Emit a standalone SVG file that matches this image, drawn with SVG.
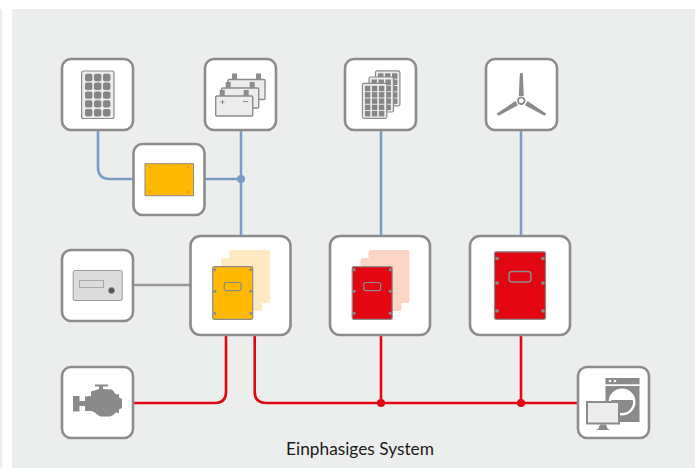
<svg xmlns="http://www.w3.org/2000/svg" width="695" height="468" viewBox="0 0 695 468">
<style>
.bg{fill:#eceeed}
.node{fill:#fff;stroke:#8c8c8c;stroke-width:2.6}
.blue{fill:none;stroke:#7b9cc6;stroke-width:2.6}
.red{fill:none;stroke:#e30613;stroke-width:2.6}
.gray{fill:none;stroke:#999;stroke-width:2.6}
.ic{fill:#8a8a8a}
.panel{fill:#ececec;stroke:#8c8c8c;stroke-width:1.2}
.cell{fill:#858585}
.bat{fill:#ececec;stroke:#8c8c8c;stroke-width:1.4}
.ghost-y{fill:#ffe9c2;filter:url(#soft)}
.ghost-r{fill:#fdd5c6;filter:url(#soft)}
.dev{stroke:#8c8c8c;stroke-width:1.2}
.win{fill:none;stroke:#8c8c8c;stroke-width:1.2}
.scr{fill:#8c8c8c}
text{font-family:"Lato","Liberation Sans",sans-serif;font-size:17.3px;fill:#1a1a1a}
</style>
<defs>
<filter id="soft" x="-10%" y="-10%" width="120%" height="120%"><feGaussianBlur stdDeviation="0.6"/></filter>
<g id="cells">
<rect x="0" y="0" width="7.400" height="7.400" rx="1.800"/><rect x="9" y="0" width="7.400" height="7.400" rx="1.800"/><rect x="18" y="0" width="7.400" height="7.400" rx="1.800"/>
<rect x="0" y="8.800" width="7.400" height="7.400" rx="1.800"/><rect x="9" y="8.800" width="7.400" height="7.400" rx="1.800"/><rect x="18" y="8.800" width="7.400" height="7.400" rx="1.800"/>
<rect x="0" y="17.600" width="7.400" height="7.400" rx="1.800"/><rect x="9" y="17.600" width="7.400" height="7.400" rx="1.800"/><rect x="18" y="17.600" width="7.400" height="7.400" rx="1.800"/>
<rect x="0" y="26.400" width="7.400" height="7.400" rx="1.800"/><rect x="9" y="26.400" width="7.400" height="7.400" rx="1.800"/><rect x="18" y="26.400" width="7.400" height="7.400" rx="1.800"/>
<rect x="0" y="35.200" width="7.400" height="7.400" rx="1.800"/><rect x="9" y="35.200" width="7.400" height="7.400" rx="1.800"/><rect x="18" y="35.200" width="7.400" height="7.400" rx="1.800"/>
</g>
<g id="mini">
<rect width="24.400" height="35" rx="1.500" class="panel"/>
<g class="cell">
<rect x="2.500" y="2.500" width="5.400" height="5.400"/><rect x="9.500" y="2.500" width="5.400" height="5.400"/><rect x="16.500" y="2.500" width="5.400" height="5.400"/>
<rect x="2.500" y="8.800" width="5.400" height="5.400"/><rect x="9.500" y="8.800" width="5.400" height="5.400"/><rect x="16.500" y="8.800" width="5.400" height="5.400"/>
<rect x="2.500" y="15.100" width="5.400" height="5.400"/><rect x="9.500" y="15.100" width="5.400" height="5.400"/><rect x="16.500" y="15.100" width="5.400" height="5.400"/>
<rect x="2.500" y="21.400" width="5.400" height="5.400"/><rect x="9.500" y="21.400" width="5.400" height="5.400"/><rect x="16.500" y="21.400" width="5.400" height="5.400"/>
<rect x="2.500" y="27.700" width="5.400" height="5.400"/><rect x="9.500" y="27.700" width="5.400" height="5.400"/><rect x="16.500" y="27.700" width="5.400" height="5.400"/>
</g>
</g>
<g id="battery">
<rect x="4" y="0" width="5" height="6" fill="#8c8c8c"/><rect x="28" y="0" width="5" height="6" fill="#8c8c8c"/>
<rect x="0" y="6" width="37" height="20" rx="1" class="bat"/>
</g>
<g id="smallInv">
<rect x="0" y="0" width="40" height="52.600" rx="1.500" class="dev"/>
<rect x="11.500" y="15.800" width="17" height="8.200" rx="2.200" class="win"/>
<g class="scr">
<circle cx="2" cy="3" r="1.500"/><circle cx="38" cy="3" r="1.500"/><circle cx="2" cy="24.500" r="1.500"/><circle cx="38" cy="24.500" r="1.500"/><circle cx="2" cy="46.500" r="1.500"/><circle cx="38" cy="46.500" r="1.500"/>
</g>
</g>
</defs>

<rect width="695" height="468" fill="#fff"/>
<rect class="bg" x="12" y="9" width="683" height="459"/>
<rect x="0" y="9" width="2" height="459" fill="#eceeed"/>

<g id="connectors">
<path class="blue" d="M98 130V167Q98 179 110 179H134"/>
<path class="blue" d="M205 179H241"/>
<path class="blue" d="M241 130V236"/>
<path class="blue" d="M381 130V236"/>
<path class="blue" d="M521 130V236"/>
<circle cx="241" cy="179" r="4" fill="#7b9cc6"/>
<path class="gray" d="M134 285H190"/>
<path class="red" d="M226 335V392Q226 403 215 403H134"/>
<path class="red" d="M254.700 335V392Q254.700 403 266 403H578"/>
<path class="red" d="M381 335V403"/>
<path class="red" d="M521 335V403"/>
<circle cx="381" cy="403" r="4" fill="#e30613"/>
<circle cx="521" cy="403" r="4" fill="#e30613"/>
</g>

<g id="solar">
<rect class="node" x="62" y="59" width="71" height="71" rx="9"/>
<rect x="81.600" y="71" width="32.400" height="47.500" rx="2" class="panel"/>
<use href="#cells" x="85" y="73.800" class="cell"/>
</g>

<g id="batteries">
<rect class="node" x="205" y="59" width="71" height="71" rx="9"/>
<use href="#battery" x="228" y="73.500"/>
<use href="#battery" x="221.700" y="82"/>
<use href="#battery" x="215.700" y="90"/>
<path d="M220.500 102h4M222.500 100v4M243 101.500h5" stroke="#8c8c8c" stroke-width="1" fill="none"/>
</g>

<g id="mppt">
<rect class="node" x="133.500" y="144" width="71" height="71" rx="9"/>
<rect x="145" y="163.700" width="48.500" height="32" fill="#ffb900" stroke="#8c8c8c" stroke-width="1"/>
<g fill="#8c8c8c"><circle cx="150" cy="167" r=".8"/><circle cx="188" cy="167" r=".8"/><circle cx="150" cy="192" r=".8"/><circle cx="188" cy="192" r=".8"/></g>
</g>

<g id="modules">
<rect class="node" x="345" y="59" width="71" height="71" rx="9"/>
<use href="#mini" x="375.500" y="70.800"/>
<use href="#mini" x="369" y="77"/>
<use href="#mini" x="362.400" y="83.300"/>
</g>

<g id="wind">
<rect class="node" x="486" y="59" width="71" height="71" rx="9"/>
<g class="ic">
<path d="M519.800 73.500Q521.300 72 522.800 73.500L523.800 96H518.800Z"/>
<path d="M497 113.500Q496.800 115.600 499 115.500L518 105.200L515.500 101Z"/>
<path d="M546 113.500Q546.200 115.600 544 115.500L525 105.200L527.500 101Z"/>
</g>
<circle cx="521.300" cy="100.700" r="3.300" fill="#fff" stroke="#8a8a8a" stroke-width="1.800"/>
</g>

<g id="display">
<rect class="node" x="62" y="250" width="71" height="71" rx="9"/>
<rect x="73.200" y="270.500" width="49" height="30" rx="1.500" fill="#dcdcdc" stroke="#999" stroke-width="1"/>
<rect x="79.500" y="280.500" width="24" height="7" fill="none" stroke="#aaa" stroke-width="1"/>
<circle cx="111.500" cy="290.500" r="3" fill="#555" stroke="#888" stroke-width=".8"/>
</g>

<g id="inverter1">
<rect class="node" x="190.500" y="236" width="100" height="99" rx="10"/>
<rect class="ghost-y" x="229" y="250" width="41" height="53" rx="2"/>
<rect class="ghost-y" x="221" y="258" width="41" height="53" rx="2"/>
<use href="#smallInv" x="212.700" y="266.700" fill="#ffb900"/>
</g>

<g id="inverter2">
<rect class="node" x="330" y="236" width="100" height="99" rx="10"/>
<rect class="ghost-r" x="368.500" y="250" width="41" height="53" rx="2"/>
<rect class="ghost-r" x="360.500" y="258" width="41" height="53" rx="2"/>
<use href="#smallInv" x="352.200" y="266.700" fill="#e30613"/>
</g>

<g id="inverter3">
<rect class="node" x="470" y="236" width="100" height="99" rx="10"/>
<rect x="494.500" y="251.800" width="51" height="67.500" rx="1.500" fill="#e30613" stroke="#8c8c8c" stroke-width="1.200"/>
<rect x="509" y="271.500" width="22" height="10.500" rx="2.800" class="win" style="stroke-width:1.400"/>
<g class="scr">
<circle cx="497" cy="258.500" r="1.800"/><circle cx="543" cy="258.500" r="1.800"/><circle cx="497" cy="283" r="1.800"/><circle cx="543" cy="283" r="1.800"/><circle cx="497" cy="311" r="1.800"/><circle cx="543" cy="311" r="1.800"/>
</g>
</g>

<g id="genset">
<rect class="node" x="62" y="367" width="71" height="71" rx="9"/>
<path class="ic" d="M73 396H79.500V401H85V396.500L91 396V391.500Q95 390 99 389V386.500H95V384.500H108V386.500H103V389L112 389.500L116 394.500L119 394V397.500L122 399V408L119 409.500V413L116 412.500L113 415L110 416.500H100L94 412L91 411H85V406H79.500V411.500H73Z"/>
</g>

<g id="loads">
<rect class="node" x="578" y="367" width="71" height="71" rx="9"/>
<rect x="605.500" y="378" width="34" height="6.300" class="ic"/>
<circle cx="610" cy="381" r="1.300" fill="#fff"/><circle cx="615" cy="381" r="1.300" fill="#fff"/>
<rect x="605.500" y="386" width="34" height="36" class="ic"/>
<circle cx="622" cy="402" r="13.500" fill="#fff"/>
<circle cx="622" cy="402" r="11" fill="#8a8a8a"/>
<path d="M611 400A11 11 0 0 1 633 400Z" fill="#fff"/>
<rect x="587" y="402" width="32" height="21.500" fill="#ececec" stroke="#8c8c8c" stroke-width="2"/>
<path d="M600 424.500H606L607.500 428.500L610 430H596L598.500 428.500Z" class="ic"/>
</g>

<text id="caption" x="360" y="455" text-anchor="middle">Einphasiges System</text>
</svg>
